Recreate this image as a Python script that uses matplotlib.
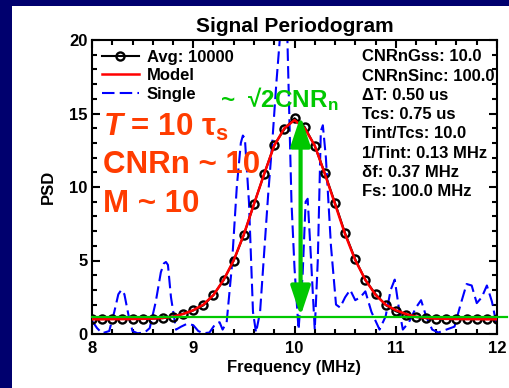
import matplotlib
matplotlib.use("Agg")
import matplotlib.pyplot as plt
from matplotlib.patches import Rectangle
from matplotlib.ticker import MultipleLocator

plt.rcParams['font.family'] = ['Liberation Sans', 'DejaVu Sans']
plt.rcParams['font.weight'] = 'bold'
plt.rcParams['mathtext.fontset'] = 'custom'
plt.rcParams['mathtext.rm'] = 'Liberation Sans:bold'
plt.rcParams['mathtext.it'] = 'Liberation Sans:italic:bold'

# averaged periodogram (0.1 MHz grid)
freq = [8.0, 8.1, 8.2, 8.3, 8.4, 8.5, 8.6, 8.7, 8.8, 8.9,
        9.0, 9.1, 9.2, 9.3, 9.4, 9.5, 9.6, 9.7, 9.8, 9.9,
        10.0, 10.1, 10.2, 10.3, 10.4, 10.5, 10.6, 10.7, 10.8, 10.9,
        11.0, 11.1, 11.2, 11.3, 11.4, 11.5, 11.6, 11.7, 11.8, 11.9, 12.0]
psd_avg = [1.02, 1.02, 1.02, 1.03, 1.03, 1.04, 1.05, 1.08, 1.18, 1.38,
           1.60, 1.95, 2.65, 3.67, 5.00, 6.75, 8.85, 10.87, 12.85, 13.93,
           14.68, 14.08, 12.80, 10.92, 8.92, 6.85, 5.08, 3.67, 2.72, 1.97,
           1.55, 1.30, 1.15, 1.08, 1.05, 1.04, 1.03, 1.02, 1.02, 1.02, 1.02]
psd_model = [1.00, 1.00, 1.01, 1.01, 1.02, 1.03, 1.05, 1.09, 1.18, 1.36,
             1.62, 2.00, 2.66, 3.68, 5.02, 6.78, 8.84, 10.88, 12.82, 14.00,
             14.55, 14.00, 12.82, 10.88, 8.84, 6.78, 5.02, 3.68, 2.66, 2.00,
             1.62, 1.36, 1.18, 1.09, 1.05, 1.03, 1.02, 1.01, 1.01, 1.00, 1.00]

# single periodogram
freq_single = [8.00, 8.05, 8.10, 8.17, 8.22, 8.26, 8.29, 8.32, 8.36, 8.40, 8.45, 8.52,
               8.57, 8.63, 8.68, 8.71, 8.73, 8.75, 8.78, 8.83, 8.88, 8.94, 9.00, 9.05,
               9.10, 9.16, 9.22, 9.26, 9.29, 9.33, 9.38, 9.43, 9.47, 9.49, 9.51,
               9.55, 9.59, 9.62, 9.66, 9.70, 9.74, 9.78, 9.82, 9.86, 9.90,
               9.93, 9.97, 10.00, 10.04, 10.08, 10.11, 10.13, 10.16, 10.20, 10.23, 10.26, 10.28,
               10.31, 10.36, 10.41, 10.45, 10.50, 10.55, 10.60, 10.65, 10.70, 10.76,
               10.84, 10.90, 10.95, 10.99, 11.03, 11.07, 11.13, 11.20, 11.25, 11.30,
               11.36, 11.42, 11.50, 11.58, 11.64, 11.70, 11.75, 11.80, 11.85, 11.90,
               11.95, 12.00]
psd_single = [0.9, 0.4, 0.05, 0.2, 1.5, 2.7, 3.0, 2.7, 1.3, 0.2, 0.05, 0.1,
              0.4, 2.2, 4.2, 4.8, 4.9, 4.7, 2.5, 0.3, 0.5, 0.7, 0.6, 0.2,
              0.05, 0.1, 0.7, 0.8, 0.3, 0.8, 4.5, 10.0, 13.0, 13.5, 13.3,
              9.0, 1.5, 0.1, 1.5, 5.5, 9.5, 13.0, 17.0, 20.5, 22.5,
              20.0, 9.0, 4.5, 0.3, 4.0, 9.0, 9.2, 5.5, 0.3, 5.0, 13.8, 14.2,
              12.0, 6.0, 2.0, 1.8, 2.5, 3.0, 2.3, 2.5, 2.9, 1.5,
              0.3, 1.2, 3.0, 3.7, 1.8, 0.3, 0.8, 1.8, 2.3, 1.2,
              0.3, 0.1, 0.3, 0.5, 2.0, 3.4, 3.3, 2.1, 2.5, 3.3,
              2.2, 0.5]

info_lines = ["CNRnGss: 10.0", "CNRnSinc: 100.0", "\u0394T: 0.50 us", "Tcs: 0.75 us",
              "Tint/Tcs: 10.0", "1/Tint: 0.13 MHz", "\u03b4f: 0.37 MHz", "Fs: 100.0 MHz"]
big_lines = [r"$\mathit{T}$ = 10 " + "\u03c4" + r"$_\mathrm{s}$", "CNRn ~ 10", "M ~ 10"]
noise_level = 1.15
arrow_x = 10.06
arrow_top = 14.83

green = '#00c800'
orange = '#ff3c00'

fig = plt.figure(figsize=(5.1, 3.88), dpi=100, facecolor='#00006e')
fig.patches.append(Rectangle((12 / 510, 0), 1, 1 - 6 / 388, transform=fig.transFigure,
                             facecolor='white', edgecolor='none', zorder=-10))
ax = fig.add_axes([92 / 510, 54 / 388, 405 / 510, 294 / 388])
ax.set_facecolor('white')

ax.plot(freq_single, psd_single, color='#0000ff', lw=1.5, dashes=(6, 2.5), label='Single', zorder=2)
ax.plot(freq, psd_avg, color='black', lw=1.5, marker='o', ms=5.8, mfc='none', mew=1.7,
        label='Avg: 10000', zorder=3)
ax.plot(freq, psd_model, color='red', lw=1.8, label='Model', zorder=4)

ax.plot([8, 12.1], [noise_level, noise_level], color=green, lw=1.6, clip_on=False, zorder=5)
ax.annotate('', xy=(arrow_x, arrow_top), xytext=(arrow_x, 1.22),
            arrowprops=dict(arrowstyle='<|-|>,head_length=0.9,head_width=0.3', color=green,
                            lw=3, mutation_scale=20, shrinkA=0, shrinkB=0), zorder=6)

handles, labels = ax.get_legend_handles_labels()
order = [1, 2, 0]
ax.legend([handles[i] for i in order], [labels[i] for i in order], loc='upper left',
          frameon=False, fontsize=12, handlelength=2.2, handletextpad=0.5,
          labelspacing=0.2, borderpad=0.4, borderaxespad=0.2)

for i, s in enumerate(info_lines):
    ax.text(0.667, 0.943 - i * 0.0656, s, transform=ax.transAxes, fontsize=12,
            fontweight='bold', va='center', ha='left', zorder=7)

for s, yb in zip(big_lines, [0.673, 0.548, 0.415]):
    ax.text(0.027, yb, s, transform=ax.transAxes, fontsize=22.5, color=orange,
            fontweight='bold', va='baseline', ha='left', zorder=7)

ax.text(0.316, 0.773, "~  \u221a2CNR" + r"$_\mathrm{n}$", transform=ax.transAxes, fontsize=17.5,
        color=green, fontweight='bold', va='baseline', ha='left', zorder=7)

ax.set_xlim(8, 12)
ax.set_ylim(0, 20)
ax.xaxis.set_major_locator(MultipleLocator(1))
ax.xaxis.set_minor_locator(MultipleLocator(0.2))
ax.yaxis.set_major_locator(MultipleLocator(5))
ax.yaxis.set_minor_locator(MultipleLocator(1))
ax.tick_params(which='both', direction='in', top=True, right=True, width=1.5, labelsize=12)
ax.tick_params(which='major', length=6)
ax.tick_params(which='minor', length=3.5)
ax.tick_params(axis='x', pad=5)
ax.tick_params(axis='y', pad=3)
for sp in ax.spines.values():
    sp.set_linewidth(1.5)

ax.set_title('Signal Periodogram', fontsize=15, fontweight='bold', pad=6)
ax.set_xlabel('Frequency (MHz)', fontsize=12, fontweight='bold', labelpad=3)
ax.set_ylabel('PSD', fontsize=12, fontweight='bold', labelpad=10)

fig.savefig('out.png', dpi=100, facecolor=fig.get_facecolor())
